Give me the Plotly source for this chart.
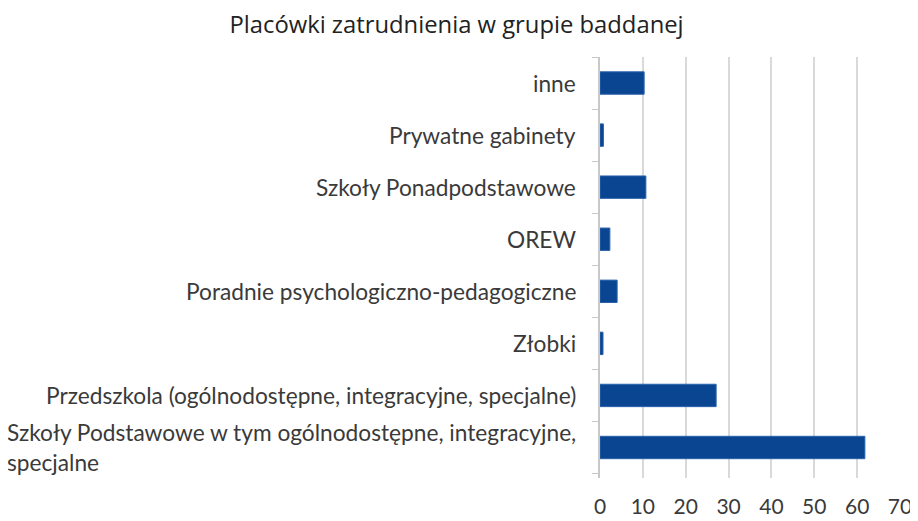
import plotly.graph_objects as go

categories = [
    "Szkoły Podstawowe w tym ogólnodostępne, integracyjne,<br>specjalne",
    "Przedszkola (ogólnodostępne, integracyjne, specjalne)",
    "Złobki",
    "Poradnie psychologiczno-pedagogiczne",
    "OREW",
    "Szkoły Ponadpodstawowe",
    "Prywatne gabinety",
    "inne",
]
values = [61.8, 27.1, 0.7, 4.0, 2.3, 10.7, 0.8, 10.3]
x_ticks = [0, 10, 20, 30, 40, 50, 60, 70]
title = "Placówki zatrudnienia w grupie baddanej"

FONT = "Lato"
TEXT = "#3a3a3a"

fig = go.Figure(go.Bar(
    y=categories, x=values, orientation="h",
    marker=dict(color="#0a4591", line=dict(color="#2a63ab", width=1)),
))

for c in categories:
    fig.add_annotation(
        x=0, y=c, xref="x", yref="y", text=c, showarrow=False,
        xanchor="right", yanchor="middle", align="left", xshift=-22,
        font=dict(family=FONT, size=22.7, color=TEXT),
    )

fig.update_layout(
    width=910, height=513,
    margin=dict(l=592, r=18, t=49, b=43, autoexpand=False),
    paper_bgcolor="white", plot_bgcolor="white",
    title=dict(text=title, x=0.4929, xanchor="center", y=0.967, yanchor="middle",
               font=dict(family="Open Sans", size=23.8, color="#222")),
    bargap=0.57,
    showlegend=False,
    xaxis=dict(range=[0, 70], tickvals=x_ticks, showgrid=True, automargin=False,
               gridcolor="#d9d9d9", gridwidth=1.5, zeroline=False,
               showline=False, ticks="", ticklabelstandoff=14,
               tickfont=dict(family=FONT, size=21, color=TEXT)),
    yaxis=dict(showticklabels=False, showline=True, linecolor="#c8c8c8",
               linewidth=1.5, ticks="outside", ticklen=6, tickcolor="#c8c8c8",
               tickson="boundaries", showgrid=False, automargin=False),
)

fig.write_html("out.html")
